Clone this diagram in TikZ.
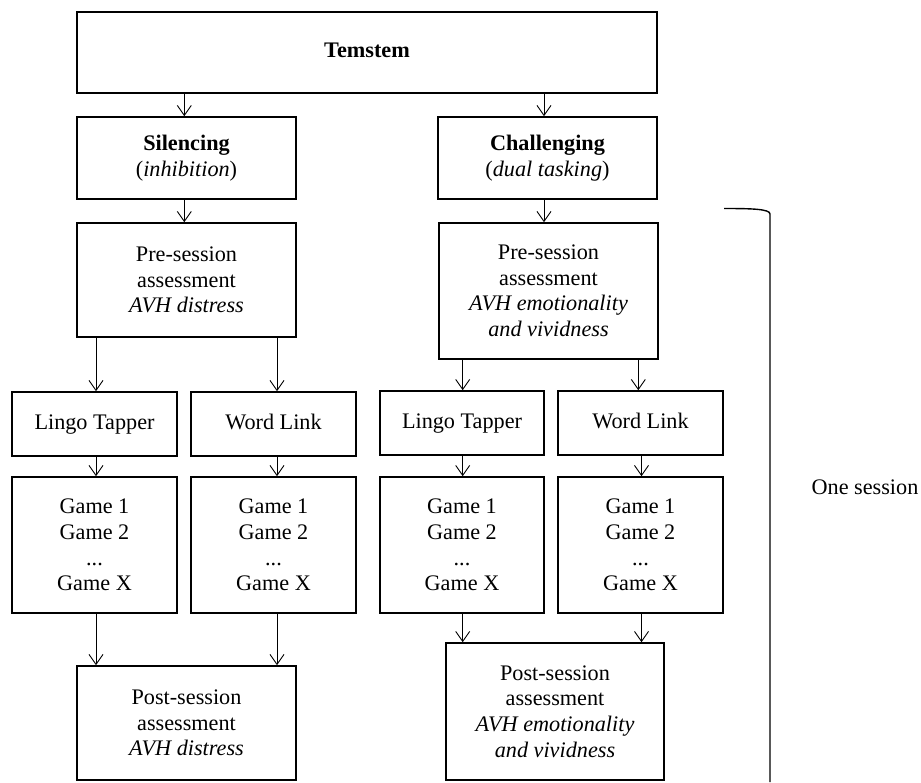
\documentclass[tikz,border=0pt]{standalone}
\usepackage{fontspec}
\setmainfont{Liberation Serif}
\usetikzlibrary{arrows.meta}
\begin{document}
\begin{tikzpicture}[x=1bp,y=-1bp,
  txt/.style={font=\fontsize{22.3}{25.6}\selectfont},
  box/.style={draw, line width=1.6bp, inner sep=0pt, align=center, txt},
  oneline/.style={text height=15.5bp, text depth=4.5bp},
  arr/.style={line width=0.9bp, -{Straight Barb[length=10bp,width=14bp,line width=0.9bp]}},
  brk/.style={line width=1.4bp}
  ]
\useasboundingbox (0,0) rectangle (921,783);
% top
\node[box, oneline, minimum width=580bp, minimum height=81bp] (tem) at (367,52.5) {\textbf{Temstem}};
\node[box, minimum width=219bp, minimum height=82bp] (sil) at (186.5,158) {\textbf{Silencing}\\(\textit{inhibition})};
\node[box, minimum width=219bp, minimum height=82bp] (cha) at (547.5,158) {\textbf{Challenging}\\(\textit{dual tasking})};
% pre-session
\node[box, minimum width=219bp, minimum height=114bp] (preL) at (186.5,280) {Pre-session\\assessment\\\textit{AVH distress}};
\node[box, minimum width=219bp, minimum height=136bp] (preR) at (548.5,291) {Pre-session\\assessment\\\textit{AVH emotionality}\\\textit{and vividness}};
% games row
\node[box, oneline, minimum width=165bp, minimum height=64bp] (lingoL) at (94.5,424) {Lingo Tapper};
\node[box, oneline, minimum width=165bp, minimum height=64bp] (wordL) at (273.5,424) {Word Link};
\node[box, oneline, minimum width=164bp, minimum height=64bp] (lingoR) at (462,423) {Lingo Tapper};
\node[box, oneline, minimum width=165bp, minimum height=64bp] (wordR) at (640.5,423) {Word Link};
\node[box, minimum width=165bp, minimum height=136bp] (gLL) at (94.5,545) {Game 1\\Game 2\\...\\Game X};
\node[box, minimum width=165bp, minimum height=136bp] (gLW) at (273.5,545) {Game 1\\Game 2\\...\\Game X};
\node[box, minimum width=164bp, minimum height=136bp] (gRL) at (462,545) {Game 1\\Game 2\\...\\Game X};
\node[box, minimum width=165bp, minimum height=136bp] (gRW) at (640.5,545) {Game 1\\Game 2\\...\\Game X};
% post-session
\node[box, minimum width=219bp, minimum height=114bp] (postL) at (186.5,723) {Post-session\\assessment\\\textit{AVH distress}};
\node[box, minimum width=218bp, minimum height=137bp] (postR) at (555,711.5) {Post-session\\assessment\\\textit{AVH emotionality}\\\textit{and vividness}};
% arrow x positions
\coordinate (xa) at (184.3,0);
\coordinate (xb) at (544,0);
\coordinate (xc) at (96,0);
\coordinate (xd) at (277,0);
\coordinate (xe) at (462.7,0);
\coordinate (xf) at (638.3,0);
\coordinate (xg) at (641.5,0);
% arrows
\draw[arr] (tem.south -| xa) -- (sil.north -| xa);
\draw[arr] (tem.south -| xb) -- (cha.north -| xb);
\draw[arr] (sil.south -| xa) -- (preL.north -| xa);
\draw[arr] (cha.south -| xb) -- (preR.north -| xb);
\draw[arr] (preL.south -| xc) -- (lingoL.north -| xc);
\draw[arr] (preL.south -| xd) -- (wordL.north -| xd);
\draw[arr] (preR.south -| xe) -- (lingoR.north -| xe);
\draw[arr] (preR.south -| xf) -- (wordR.north -| xf);
\draw[arr] (lingoL.south -| xc) -- (gLL.north -| xc);
\draw[arr] (wordL.south -| xd) -- (gLW.north -| xd);
\draw[arr] (lingoR.south -| xe) -- (gRL.north -| xe);
\draw[arr] (wordR.south -| xg) -- (gRW.north -| xg);
\draw[arr] (gLL.south -| xc) -- (postL.north -| xc);
\draw[arr] (gLW.south -| xd) -- (postL.north -| xd);
\draw[arr] (gRL.south -| xe) -- (postR.north -| xe);
\draw[arr] (gRW.south -| xg) -- (postR.north -| xg);
% bracket
\coordinate (b1) at (724,208.5);
\coordinate (b2) at (770,214);
\coordinate (b3) at (770,782);
\draw[brk] (b1) .. controls (752,208.5) and (770,209) .. (b2) -- (b3);
\node[txt] (one) at (865,487) {One session};
\end{tikzpicture}
\end{document}
